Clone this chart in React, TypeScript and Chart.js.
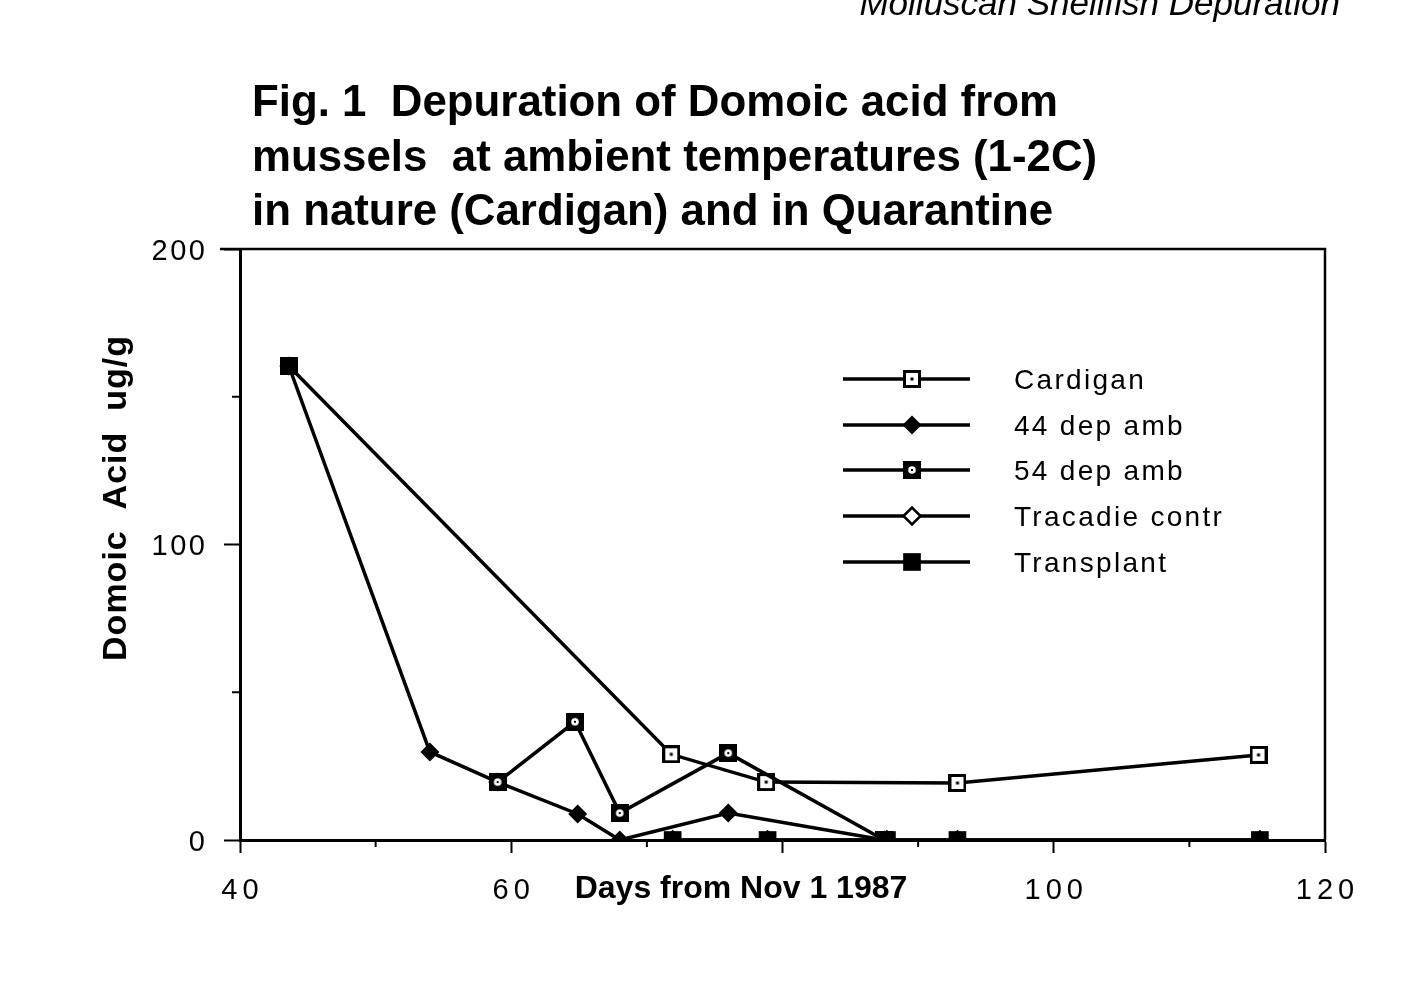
import React, { useEffect, useRef } from "react";
import { Chart, registerables } from "chart.js";
import { drawPoint } from "chart.js/helpers";

Chart.register(...registerables);

const FONT = "'Liberation Sans', Arial, Helvetica, sans-serif";

// ---- text ----
const headerText = "Molluscan Shellfish Depuration";
const titleLines = [
  "Fig. 1  Depuration of Domoic acid from",
  "mussels  at ambient temperatures (1-2C)",
  "in nature (Cardigan) and in Quarantine",
];
const xAxisTitle = "Days from Nov 1 1987";
const yAxisTitle = "Domoic  Acid  ug/g";
const seriesNames = ["Cardigan", "44 dep amb", "54 dep amb", "Tracadie contr", "Transplant"];

// ---- axes ----
const xMin = 40;
const xMax = 120;
const xStep = 10;
const xLabelledTicks = [40, 60, 100, 120];
const xMajorTicks = [40, 60, 80, 100, 120];
const yMin = 0;
const yMax = 200;
const yStep = 50;
const yLabelledTicks = [0, 100, 200];

// ---- data (days from Nov 1 1987, domoic acid ug/g) ----
const cardiganDays = [43.6, 71.8, 78.8, 92.9, 115.1];
const cardiganValues = [160.4, 29.0, 19.6, 19.3, 28.8];

const dep44Days = [43.6, 54.0, 59.0, 64.9, 68.0, 76.0, 87.5];
const dep44Values = [160.4, 29.8, 19.6, 8.8, 0, 9.1, 0];

const dep54Days = [59.0, 64.7, 68.0, 76.0, 87.5];
const dep54Values = [19.6, 40.0, 9.1, 29.4, 0];

const tracadieDays = [71.9, 78.9, 87.7, 92.9, 115.2];
const tracadieValues = [0, 0, 0, 0, 0];

const transplantDays = [43.6, 71.9, 71.9, 78.9, 87.7, 92.9, 115.2];
const transplantValues: (number | null)[] = [160.4, null, 0, 0, 0, 0, 0];

function makeMarker(size: number, draw: (g: CanvasRenderingContext2D, s: number) => void) {
  const c = document.createElement("canvas");
  c.width = size;
  c.height = size;
  const g = c.getContext("2d")!;
  draw(g, size);
  return c;
}

export default function App() {
  const ref = useRef<HTMLCanvasElement | null>(null);

  useEffect(() => {
    const canvas = ref.current;
    if (!canvas) return;

    const cardiganMarker = makeMarker(18, (g, s) => {
      g.fillStyle = "#000";
      g.fillRect(0, 0, s, s);
      g.fillStyle = "#fff";
      g.fillRect(3, 3, s - 6, s - 6);
      g.fillStyle = "#000";
      g.fillRect(s / 2 - 1.5, s / 2 - 1.5, 3, 3);
    });
    const dep54Marker = makeMarker(18, (g, s) => {
      g.fillStyle = "#000";
      g.fillRect(0, 0, s, s);
      g.fillStyle = "#fff";
      g.beginPath();
      g.arc(s / 2, s / 2, 3.8, 0, Math.PI * 2);
      g.fill();
      g.fillStyle = "#000";
      g.fillRect(s / 2 - 1, s / 2 - 1, 2, 2);
    });

    const styles = [
      { pointStyle: cardiganMarker as any, radius: 9, bg: "#fff", bw: 0 },
      { pointStyle: "rectRot", radius: 9.5, bg: "#000", bw: 0 },
      { pointStyle: dep54Marker as any, radius: 9, bg: "#000", bw: 0 },
      { pointStyle: "rectRot", radius: 8.5, bg: "#fff", bw: 2.5 },
      { pointStyle: "rect", radius: 12.5, bg: "#000", bw: 0 },
    ];

    const pts = (xs: number[], ys: (number | null)[]) => xs.map((x, i) => ({ x, y: ys[i] }));
    const series = [
      { data: pts(cardiganDays, cardiganValues), order: 3 },
      { data: pts(dep44Days, dep44Values), order: 4 },
      { data: pts(dep54Days, dep54Values), order: 2 },
      { data: pts(tracadieDays, tracadieValues), order: 5 },
      { data: pts(transplantDays, transplantValues), order: 1 },
    ];

    const datasets = series.map((s, i) => ({
      label: seriesNames[i],
      data: s.data,
      order: s.order,
      borderColor: "#000",
      backgroundColor: "#000",
      borderWidth: 3.5,
      tension: 0,
      spanGaps: false,
      pointStyle: styles[i].pointStyle,
      pointRadius: styles[i].radius,
      pointBackgroundColor: styles[i].bg,
      pointBorderColor: "#000",
      pointBorderWidth: styles[i].bw,
    }));

    const decor = {
      id: "decor",
      afterDraw(chart: any) {
        const { ctx, chartArea: a, scales } = chart;
        const xs = scales.x;
        const ys = scales.y;
        ctx.save();
        ctx.strokeStyle = "#000";
        ctx.fillStyle = "#000";

        // frame top & right
        ctx.lineWidth = 2.5;
        ctx.beginPath();
        ctx.moveTo(a.left - 20, a.top);
        ctx.lineTo(a.right, a.top);
        ctx.lineTo(a.right, a.bottom);
        ctx.stroke();

        // minor ticks
        ctx.lineWidth = 2;
        xs.ticks.forEach((t: any) => {
          if (xMajorTicks.includes(t.value)) return;
          const px = xs.getPixelForValue(t.value);
          ctx.beginPath();
          ctx.moveTo(px, a.bottom);
          ctx.lineTo(px, a.bottom + 7);
          ctx.stroke();
        });
        ys.ticks.forEach((t: any) => {
          if (yLabelledTicks.includes(t.value)) return;
          const py = ys.getPixelForValue(t.value);
          ctx.beginPath();
          ctx.moveTo(a.left, py);
          ctx.lineTo(a.left - 8, py);
          ctx.stroke();
        });

        // tick labels
        (ctx as any).letterSpacing = "5px";
        ctx.font = `29px ${FONT}`;
        ctx.textAlign = "center";
        ctx.textBaseline = "alphabetic";
        xLabelledTicks.forEach((v) => {
          ctx.fillText(String(v), xs.getPixelForValue(v) + 2.5, 899);
        });
        (ctx as any).letterSpacing = "2.5px";
        ctx.textAlign = "right";
        yLabelledTicks.forEach((v) => {
          ctx.fillText(String(v), a.left - 35 + 2.5, ys.getPixelForValue(v) + 10.5);
        });
        (ctx as any).letterSpacing = "0px";

        // axis titles
        ctx.font = `bold 32px ${FONT}`;
        ctx.textAlign = "center";
        ctx.fillText(xAxisTitle, 741, 898);

        ctx.save();
        ctx.translate(126, 498);
        ctx.rotate(-Math.PI / 2);
        (ctx as any).letterSpacing = "1px";
        ctx.font = `bold 34px ${FONT}`;
        ctx.textAlign = "center";
        ctx.fillText(yAxisTitle, 0, 0);
        ctx.restore();
        (ctx as any).letterSpacing = "0px";

        // figure title
        ctx.font = `bold 44px ${FONT}`;
        ctx.textAlign = "left";
        const w1 = ctx.measureText(titleLines[0]).width;
        const sx = 806 / w1;
        titleLines.forEach((line, i) => {
          ctx.save();
          ctx.translate(252, 116 + i * 54.5);
          ctx.scale(sx, 1);
          ctx.fillText(line, 0, 0);
          ctx.restore();
        });

        // page header (cut at top)
        ctx.font = `italic 35px ${FONT}`;
        ctx.textAlign = "right";
        ctx.fillText(headerText, 1340, 15);

        // legend
        const rows = [379, 425, 470, 516, 562];
        seriesNames.forEach((name, i) => {
          const y = rows[i];
          ctx.lineWidth = 3.5;
          ctx.strokeStyle = "#000";
          ctx.beginPath();
          ctx.moveTo(843, y);
          ctx.lineTo(970, y);
          ctx.stroke();
          ctx.fillStyle = styles[i].bg;
          ctx.strokeStyle = "#000";
          ctx.lineWidth = styles[i].bw;
          drawPoint(ctx, { pointStyle: styles[i].pointStyle, radius: styles[i].radius, rotation: 0, borderWidth: styles[i].bw } as any, 912, y);
          ctx.fillStyle = "#000";
          (ctx as any).letterSpacing = "2.3px";
          ctx.font = `28px ${FONT}`;
          ctx.textAlign = "left";
          ctx.fillText(name, 1014, y + 10);
          (ctx as any).letterSpacing = "0px";
        });

        ctx.restore();
      },
    };

    const chart = new Chart(canvas, {
      type: "line",
      data: { datasets: datasets as any },
      options: {
        responsive: false,
        animation: false,
        devicePixelRatio: 1,
        layout: { padding: { top: 249, right: 89, bottom: 0, left: 0 } },
        plugins: {
          legend: { display: false },
          tooltip: { enabled: false },
          title: { display: false },
        },
        scales: {
          x: {
            type: "linear",
            min: xMin,
            max: xMax,
            ticks: { stepSize: xStep, display: false, autoSkip: false },
            grid: {
              drawOnChartArea: false,
              drawTicks: true,
              tickLength: 13,
              tickWidth: 2,
              tickColor: (c: any) => (c.tick && xMajorTicks.includes(c.tick.value) ? "#000" : "rgba(0,0,0,0)"),
            },
            border: { display: true, color: "#000", width: 3 },
            afterFit: (s: any) => {
              s.height = 154;
            },
          },
          y: {
            type: "linear",
            min: yMin,
            max: yMax,
            ticks: { stepSize: yStep, display: false, autoSkip: false },
            grid: {
              drawOnChartArea: false,
              drawTicks: true,
              tickLength: 16,
              tickWidth: 2,
              tickColor: (c: any) => (c.tick && yLabelledTicks.includes(c.tick.value) ? "#000" : "rgba(0,0,0,0)"),
            },
            border: { display: true, color: "#000", width: 3 },
            afterFit: (s: any) => {
              s.width = 240;
            },
          },
        },
      } as any,
      plugins: [decor],
    });

    return () => chart.destroy();
  }, []);

  return (
    <div style={{ position: "fixed", left: 0, top: 0, width: 1414, height: 994, background: "#fff" }}>
      <canvas ref={ref} width={1414} height={994} style={{ display: "block" }} />
    </div>
  );
}
